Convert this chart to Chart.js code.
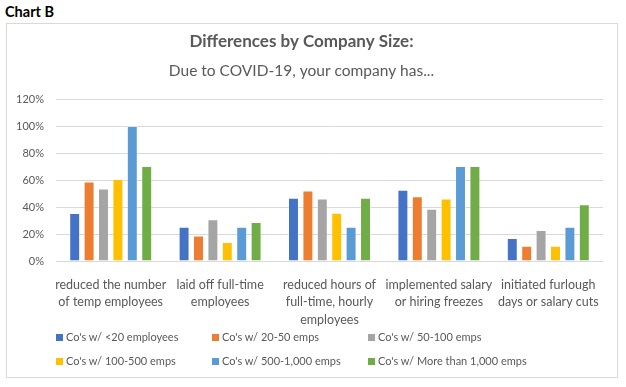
<!DOCTYPE html>
<html>
<head>
<meta charset="utf-8">
<script src="https://cdn.jsdelivr.net/npm/chart.js@4/dist/chart.umd.min.js"></script>
<style>
  html, body { margin: 0; padding: 0; background: #fff; width: 626px; height: 387px; overflow: hidden; }
  #heading { position: absolute; left: 5px; top: 3px; font: bold 14.5px Lato, "Open Sans", sans-serif; color: #000; }
  #frame { position: absolute; left: 6px; top: 23px; width: 612px; height: 355px; border: 1px solid #d9d9d9; box-sizing: border-box; }
  #wrap { position: absolute; left: 0; top: 0; width: 626px; height: 387px; }
  #legend { position: absolute; left: 0; top: 0; width: 626px; height: 387px; pointer-events: none; font: 11px Lato, "Open Sans", sans-serif; color: #595959; }
  .li { position: absolute; white-space: nowrap; line-height: 16px; }
  .li span.box { display: inline-block; width: 7px; height: 7px; margin-right: 3px; vertical-align: 0px; }
</style>
</head>
<body>
<div id="heading">Chart B</div>
<div id="frame"></div>
<div id="wrap"><canvas id="c" width="626" height="387"></canvas></div>
<div id="legend"></div>
<script>
const categories = [
  ["reduced the number", "of temp employees"],
  ["laid off full-time", "employees"],
  ["reduced hours of", "full-time, hourly", "employees"],
  ["implemented salary", "or hiring freezes"],
  ["initiated furlough", "days or salary cuts"]
];
const seriesNames = [
  "Co's w/ <20 employees",
  "Co's w/ 20-50 emps",
  "Co's w/ 50-100 emps",
  "Co's w/ 100-500 emps",
  "Co's w/ 500-1,000 emps",
  "Co's w/ More than 1,000 emps"
];
const under20     = [35.5, 25.3, 46.8, 52.7, 17.0];
const from20to50  = [58.8, 18.9, 52.2, 48.0, 11.3];
const from50to100 = [53.7, 31.0, 46.3, 38.7, 22.9];
const from100to500 = [60.8, 14.0, 35.7, 46.3, 11.3];
const from500to1000 = [100, 25.3, 25.3, 70.4, 25.3];
const over1000    = [70.4, 28.8, 46.8, 70.4, 42.1];
const yTicks = [0, 20, 40, 60, 80, 100, 120];

const seriesValues = [under20, from20to50, from50to100, from100to500, from500to1000, over1000];
const colors = ["#4472C4", "#ED7D31", "#A5A5A5", "#FFC000", "#5B9BD5", "#70AD47"];
const FONT = "Lato, 'Open Sans', sans-serif";
const TXT = "#595959";

const datasets = seriesNames.map((n, i) => ({
  label: n,
  data: seriesValues[i],
  backgroundColor: colors[i],
  borderColor: "rgba(255,255,255,0.35)",
  borderWidth: 1,
  categoryPercentage: 0.79,
  barPercentage: 0.76
}));

const chart = new Chart(document.getElementById("c"), {
  type: "bar",
  data: { labels: categories, datasets },
  options: {
    responsive: false,
    animation: false,
    devicePixelRatio: 1,
    layout: { padding: { top: 31, left: 0, right: 23, bottom: 0 } },
    plugins: {
      legend: { display: false },
      tooltip: { enabled: false },
      title: {
        display: true,
        text: "Differences by Company Size:",
        color: TXT,
        font: { family: FONT, size: 17, weight: "bold", lineHeight: 1.2 },
        padding: { top: 0, bottom: 9 }
      },
      subtitle: {
        display: true,
        text: "Due to COVID-19, your company has...",
        color: TXT,
        font: { family: FONT, size: 15.5, weight: "normal", lineHeight: 1.2 },
        padding: { top: 1.3, bottom: 18.7 }
      }
    },
    scales: {
      x: {
        grid: { display: false },
        border: { display: false },
        ticks: { color: TXT, font: { family: FONT, size: 12.5, lineHeight: 1.4 }, padding: 7, maxRotation: 0, autoSkip: false },
        afterFit: s => { s.height = 126; }
      },
      y: {
        min: 0, max: 120,
        afterBuildTicks: s => { s.ticks = yTicks.map(v => ({ value: v })); },
        grid: { color: "#d9d9d9", drawTicks: false, lineWidth: 1 },
        border: { display: false },
        ticks: { color: TXT, font: { family: FONT, size: 11 }, padding: 12, callback: v => v + "%" },
        afterFit: s => { s.width = 56; }
      }
    }
  }
});

// legend laid out in a 3-column grid as in the reference
const legend = document.getElementById("legend");
const colX = [56, 212, 368];
const rowY = [329, 353];
seriesNames.forEach((n, i) => {
  const d = document.createElement("div");
  d.className = "li";
  d.style.left = colX[i % 3] + "px";
  d.style.top = rowY[Math.floor(i / 3)] + "px";
  const b = document.createElement("span");
  b.className = "box";
  b.style.background = colors[i];
  d.appendChild(b);
  d.appendChild(document.createTextNode(n));
  legend.appendChild(d);
});
</script>
</body>
</html>
